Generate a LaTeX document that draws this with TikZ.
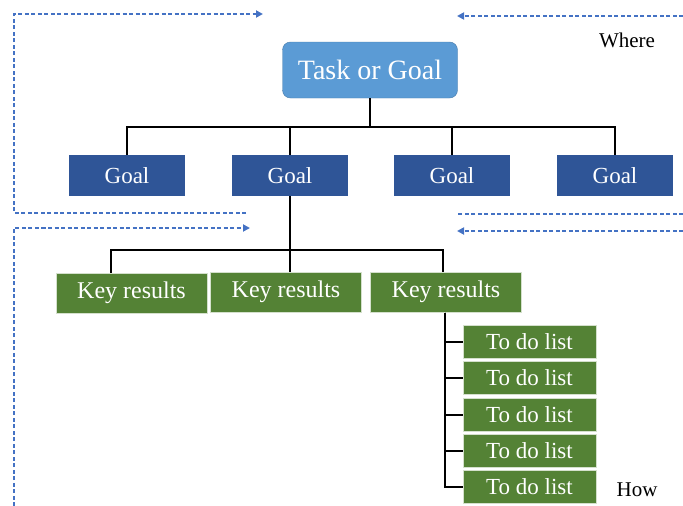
\documentclass[tikz,border=0pt]{standalone}
\usepackage{fontspec}
\setmainfont{Liberation Serif}
\usepackage{tikz}
\usetikzlibrary{arrows.meta}

\definecolor{taskblue}{HTML}{5B9BD5}
\definecolor{goalblue}{HTML}{2F5597}
\definecolor{krgreen}{HTML}{548235}
\definecolor{flowblue}{HTML}{4472C4}

\tikzset{
    taskbox/.style={fill=taskblue, draw=taskblue!80!black, rounded corners=8pt, text=white,
        minimum width=175pt, minimum height=56pt, inner sep=0pt, font=\fontsize{28}{30}\selectfont},
    goalbox/.style={fill=goalblue, text=white, minimum width=116pt, minimum height=41pt,
        inner sep=0pt, font=\fontsize{23}{25}\selectfont},
    krbox/.style={fill=krgreen, draw=krgreen!25!white, line width=1pt, text=white,
        minimum width=151pt, minimum height=40pt, inner sep=0pt, font=\fontsize{24}{26}\selectfont},
    todobox/.style={fill=krgreen, draw=krgreen!25!white, line width=1pt, text=white,
        minimum width=133pt, minimum height=33pt, inner sep=0pt, font=\fontsize{23}{25}\selectfont},
    link/.style={draw=black, line width=2pt},
    flow/.style={draw=flowblue, line width=1.8pt, dash pattern=on 4pt off 2.5pt},
    flowarrow/.style={flow, -{Triangle[length=7pt,width=7pt]}},
    side/.style={font=\fontsize{21}{23}\selectfont}
}

\begin{document}
\begin{tikzpicture}[x=1pt, y=-1pt]
        \useasboundingbox (0,0) rectangle (683,506);

        % Top task
        \node[taskbox] (task) at (370,70) {Task or Goal};

        % Goals
        \foreach \x [count=\i] in {127,290,452,615} {
            \node[goalbox] (g\i) at (\x,175.5) {Goal};
        }
        \coordinate (topbus) at (370,127);
        \draw[link] (task.south) -- (topbus);
        \foreach \i in {1,...,4} {
            \draw[link] (topbus) -| (g\i.north);
        }

        % Key results
        \node[krbox] (kr1) at (131.5,293) {Key results};
        \node[krbox] (kr2) at (286,292) {Key results};
        \node[krbox] (kr3) at (446,292) {Key results};
        \coordinate (midbus) at (290,250);
        \draw[link] (g2.south) -- (midbus);
        \draw[link] (midbus) -| ([xshift=-21pt]kr1.north);
        \draw[link] (midbus) -| ([xshift=4pt]kr2.north);
        \draw[link] (midbus) -| ([xshift=-3pt]kr3.north);

        % To do lists
        \foreach \y [count=\i] in {342,378,415,450.5,486.5} {
            \node[todobox] (td\i) at (529.5,\y) {To do list};
            \draw[link] ([xshift=-1pt]kr3.south) |- (td\i.west);
        }

        % Side labels
        \node[side] (where) at (627,40) {Where};
        \node[side] (how) at (637,490) {How};

        % Left loops
        \coordinate (la1) at (246,213);
        \coordinate (la2) at (263,14);
        \draw[flowarrow] (la1) -| (14,14) -- (la2);
        \coordinate (lb1) at (14,506);
        \coordinate (lb2) at (250,228);
        \draw[flowarrow] (lb1) |- (lb2);

        % Right loops
        \coordinate (ra1) at (683,16);
        \coordinate (ra2) at (457,16);
        \draw[flowarrow] (ra1) -- (ra2);
        \coordinate (rb1) at (683,214);
        \coordinate (rb2) at (457,214);
        \draw[flow] (rb1) -- (rb2);
        \coordinate (rc1) at (683,231);
        \coordinate (rc2) at (457,231);
        \draw[flowarrow] (rc1) -- (rc2);
    \end{tikzpicture}
\end{document}
